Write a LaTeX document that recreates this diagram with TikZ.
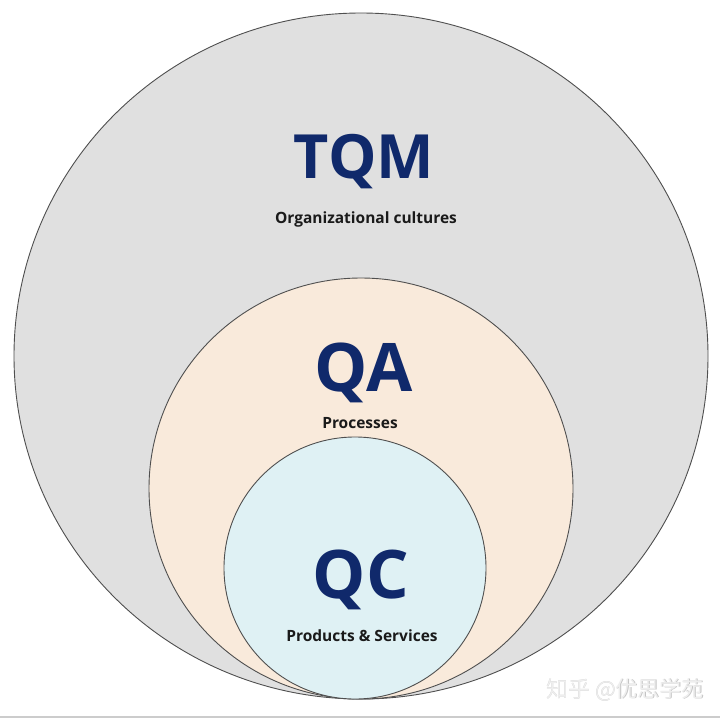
\documentclass[tikz,border=0pt]{standalone}
\usepackage{fontspec}
\setmainfont{Open Sans}
\newfontfamily\cjkfont{Noto Sans CJK SC}
\definecolor{outerfill}{HTML}{E0E0E0}
\definecolor{midfill}{HTML}{F9EADB}
\definecolor{innerfill}{HTML}{DFF1F4}
\definecolor{ringline}{HTML}{4F4F4F}
\definecolor{navy}{HTML}{10296B}
\definecolor{ink}{HTML}{1A1A1A}
\definecolor{wmark}{HTML}{EEEEEE}
\definecolor{wshade}{HTML}{C4C4C4}
\begin{document}
\begin{tikzpicture}[x=1pt,y=-1pt,
  ring/.style={draw=ringline, line width=0.9pt},
  bigtitle/.style={anchor=base, inner sep=0pt, text=navy, font=\bfseries\fontsize{#1}{#1}\selectfont},
  subtitle/.style={anchor=base, inner sep=0pt, text=ink, font=\bfseries\fontsize{15.5}{16}\selectfont},
  wm/.style={anchor=base, inner sep=0pt, font=\cjkfont\fontsize{22}{22}\selectfont}]
  \useasboundingbox[fill=white] (0,0) rectangle (720,718);
  % circles
  \draw[ring, fill=outerfill] (361,356) ellipse [x radius=347pt, y radius=343pt];
  \draw[ring, fill=midfill] (361,488.5) ellipse [x radius=212pt, y radius=210.5pt];
  \draw[ring, fill=innerfill] (355,568) ellipse [x radius=131pt, y radius=131pt];
  % texts
  \node[bigtitle=61] (tqm) at (364,178) {TQM};
  \node[subtitle] (tqmsub) at (366,223) {Organizational cultures};
  \node[bigtitle=67] (qa) at (364,391) {QA};
  \node[subtitle] (qasub) at (360,428) {Processes};
  \node[bigtitle=67] (qc) at (361,598) {QC};
  \node[subtitle] (qcsub) at (362,641) {Products \& Services};
  % watermark
  \node[wm, text=wshade] (wms) at (625.7,697.7) {知乎 @优思学苑};
  \node[wm, text=wmark] (wmt) at (625,697) {知乎 @优思学苑};
  % bottom edge line
  \fill[color=black!20] (0,716) rectangle (720,718);
\end{tikzpicture}
\end{document}
